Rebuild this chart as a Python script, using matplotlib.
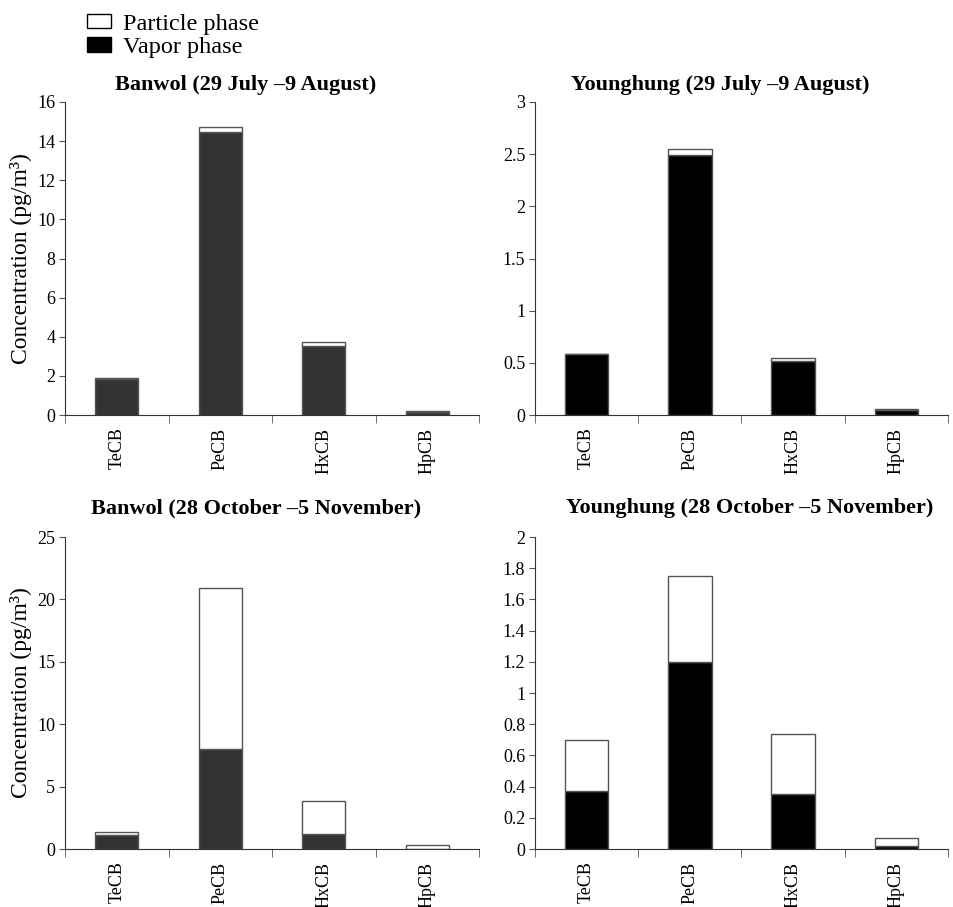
import matplotlib
matplotlib.use('Agg')
import matplotlib.pyplot as plt
from matplotlib.patches import Patch
from matplotlib.ticker import FuncFormatter, MultipleLocator
import numpy as np

plt.rcParams['font.family'] = ['Liberation Serif', 'DejaVu Serif']

congeners = ['TeCB', 'PeCB', 'HxCB', 'HpCB']

# vapor phase and particle phase concentrations (pg/m3)
banwol_summer_vapor = [1.85, 14.45, 3.55, 0.15]
banwol_summer_particle = [0.05, 0.25, 0.2, 0.07]
young_summer_vapor = [0.58, 2.49, 0.52, 0.05]
young_summer_particle = [0.005, 0.06, 0.03, 0.003]
banwol_fall_vapor = [1.1, 8.0, 1.2, 0.03]
banwol_fall_particle = [0.25, 12.9, 2.65, 0.32]
young_fall_vapor = [0.37, 1.2, 0.35, 0.02]
young_fall_particle = [0.33, 0.55, 0.39, 0.05]

panels = [
    ('Banwol (29 July \u20139 August)', banwol_summer_vapor, banwol_summer_particle, 16, 2, '#333333', 246),
    ('Younghung (29 July \u20139 August)', young_summer_vapor, young_summer_particle, 3, 0.5, 'black', 720),
    ('Banwol (28 October \u20135 November)', banwol_fall_vapor, banwol_fall_particle, 25, 5, '#333333', 256),
    ('Younghung (28 October \u20135 November)', young_fall_vapor, young_fall_particle, 2, 0.2, 'black', 750),
]

W, H = 954, 907
fig = plt.figure(figsize=(W / 100, H / 100), dpi=100)

boxes = [(65, 102, 414, 313), (535, 102, 413, 313), (65, 537, 414, 312), (535, 537, 413, 312)]
title_y = [85, 85, 508, 508]

x = np.arange(len(congeners))
for i, (title, vap, part, ymax, step, col, tx) in enumerate(panels):
    l, t, w, h = boxes[i]
    ax = fig.add_axes([l / W, 1 - (t + h) / H, w / W, h / H])
    ax.bar(x, vap, width=0.42, color=col, edgecolor='#555555', linewidth=1)
    ax.bar(x, part, width=0.42, bottom=vap, color='white', edgecolor='#555555', linewidth=1)
    ax.set_xlim(-0.5, 3.5)
    ax.set_ylim(0, ymax)
    ax.yaxis.set_major_locator(MultipleLocator(step))
    ax.yaxis.set_major_formatter(FuncFormatter(lambda v, p: '%g' % round(v, 2)))
    ax.set_xticks(x)
    ax.set_xticklabels(congeners, rotation=90, fontsize=13)
    ax.tick_params(axis='x', which='major', length=0, pad=9)
    ax.set_xticks(np.arange(-0.5, 4.0, 1.0), minor=True)
    ax.tick_params(axis='x', which='minor', length=6, direction='out', color='#555555')
    ax.tick_params(axis='y', labelsize=13, length=4, pad=3, color='#555555')
    ax.spines['top'].set_visible(False)
    ax.spines['right'].set_visible(False)
    ax.spines['left'].set_color('#333333')
    ax.spines['bottom'].set_color('#333333')
    fig.text(tx / W, 1 - title_y[i] / H, title, ha='center', va='center',
             fontsize=16, fontweight='bold')
    if i % 2 == 0:
        ax.set_ylabel('Concentration (pg/m\u00b3)', fontsize=17)
        ax.yaxis.set_label_coords(-33 / w, 0.5)

handles = [Patch(facecolor='white', edgecolor='black', label='Particle phase'),
           Patch(facecolor='black', edgecolor='black', label='Vapor phase')]
fig.legend(handles=handles, loc='upper left', bbox_to_anchor=(77 / W, 1 - 4 / H),
           frameon=False, fontsize=17.5, handlelength=1.0, handleheight=0.55,
           handletextpad=0.5, labelspacing=0.1, borderaxespad=0)

fig.savefig('out.png', dpi=100)
